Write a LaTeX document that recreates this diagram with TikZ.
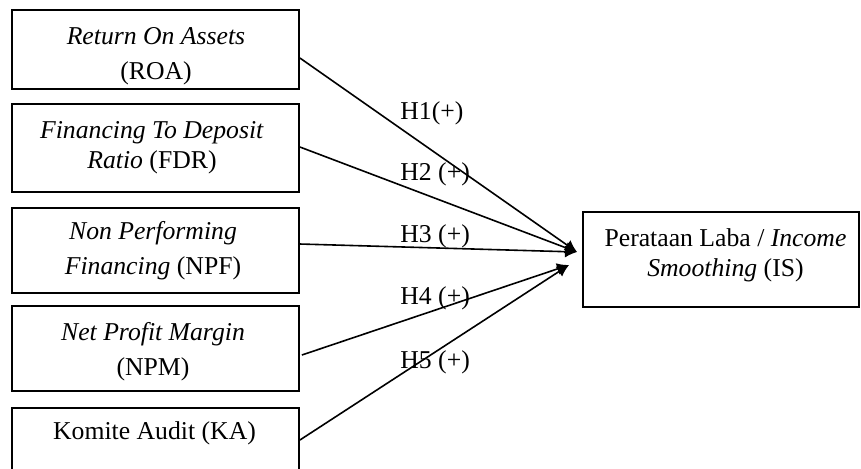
\documentclass[tikz,border=0pt]{standalone}
\usepackage{fontspec}
\setmainfont{Liberation Serif}
\usetikzlibrary{arrows.meta}
\begin{document}
\begin{tikzpicture}[x=0.5pt,y=-0.5pt,
  box/.style={draw=black, line width=0.9pt, minimum width=143.5pt, inner sep=0pt},
  txt/.style={align=center, inner sep=0pt, font=\fontsize{12.85}{17.5}\selectfont},
  txtb/.style={align=center, inner sep=0pt, font=\fontsize{12.85}{15}\selectfont},
  hyp/.style={anchor=west, inner sep=0pt, font=\fontsize{12.85}{15}\selectfont},
  arr/.style={line width=0.8pt, -{Latex[length=6pt,width=6pt]}}]
\clip (0,0) rectangle (861,468);
\fill[white] (0,0) rectangle (861,468);
% boxes
\node[box, minimum height=39.5pt] (b1) at (155.5,49.5) {};
\node[box, minimum height=44pt] (b2) at (155.5,148) {};
\node[box, minimum height=42.5pt] (b3) at (155.5,250.5) {};
\node[box, minimum height=42.5pt] (b4) at (155.5,348.5) {};
\node[box, minimum height=40pt] (b5) at (155.5,448) {};
\node[box, minimum width=138pt, minimum height=47.5pt] (is) at (721,259.5) {};
% texts
\node[txt] (l1) at (156,56.5) {\textit{Return On Assets}\\(ROA)};
\node[txtb] (l2) at (152,148) {\textit{Financing To Deposit}\\\textit{Ratio} (FDR)};
\node[txt] (l3) at (153,250.5) {\textit{Non Performing}\\\textit{Financing} (NPF)};
\node[txt] (l4) at (153,352) {\textit{Net Profit Margin}\\(NPM)};
\node[txt] (l5) at (154.5,433) {Komite Audit (KA)};
\node[txtb] (l6) at (725.5,255) {Perataan Laba / \textit{Income}\\\textit{Smoothing} (IS)};
% arrow tips
\coordinate (tipa) at (577,252);
\coordinate (tipb) at (569,265);
% connectors
\draw[arr] ([yshift=-4.25pt]b1.east) -- (tipa);
\draw[arr] ([yshift=0.5pt]b2.east) -- (tipa);
\draw[arr] ([yshift=3.25pt]b3.east) -- (tipa);
\draw[arr] ([xshift=1pt,yshift=-3.25pt]b4.east) -- (tipb);
\draw[arr] ([yshift=4pt]b5.east) -- (tipb);
% labels
\node[hyp] (h1) at (400,113) {H1(+)};
\node[hyp] (h2) at (400,174) {H2 (+)};
\node[hyp] (h3) at (400,236) {H3 (+)};
\node[hyp] (h4) at (400,298) {H4 (+)};
\node[hyp] (h5) at (400,362) {H5 (+)};
\end{tikzpicture}
\end{document}
